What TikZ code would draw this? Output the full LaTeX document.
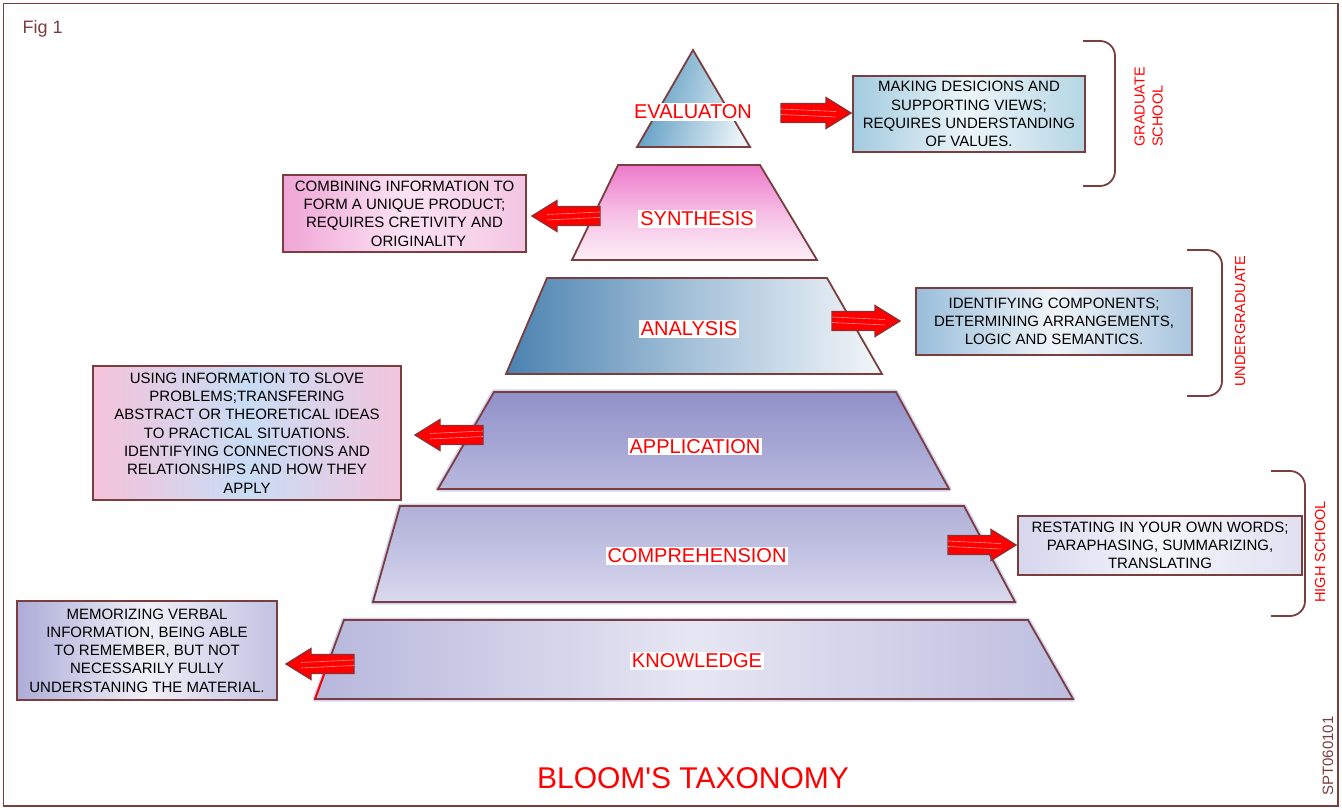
\documentclass[tikz,border=0pt]{standalone}
\usepackage{fontspec}
\setmainfont{Liberation Sans}
\usetikzlibrary{calc}

\definecolor{framec}{HTML}{7A3E3E}
\definecolor{arrowedge}{HTML}{8C3030}
\definecolor{haloc}{HTML}{D4D4F2}

\tikzset{
  framebox/.style={draw=framec, line width=1.5pt},
  edge/.style={draw=framec, line width=1.8pt, line join=miter},
  halo/.style={draw=haloc, line width=5pt, line join=round},
  level/.style={font=\fontsize{20}{22}\selectfont, text=red, fill=white,
                inner xsep=2pt, inner ysep=1.5pt},
  notebox/.style={draw=framec, line width=1.8pt, align=center, inner sep=0pt,
                  font=\fontsize{15}{18.3}\selectfont, text=black},
  stage/.style={font=\fontsize{14.5}{18}\selectfont, text=red, rotate=90,
                align=left, inner sep=0pt},
  redarrow/.style={fill=red, draw=arrowedge, line width=1.3pt, line join=miter},
  streak/.style={draw=red!45!white, line width=0.6pt},
  bracket/.style={draw=framec, line width=1.8pt, rounded corners=15pt},
}

% block arrow: tail x, tip x, centre y
\newcommand\blockarrow[3]{%
  \pgfmathsetmacro\bahd{(#2>#1)*50-25}%
  \path[redarrow] (#1,#3-9.5) -- ({#2-(\bahd)},#3-9.5) -- ({#2-(\bahd)},#3-15.5)
     -- (#2,#3) -- ({#2-(\bahd)},#3+15.5) -- ({#2-(\bahd)},#3+9.5)
     -- (#1,#3+9.5) -- cycle;
  \draw[streak] (#1,#3-4) -- ({#2-(\bahd)*0.6},#3-1.5);
  \draw[streak] (#1,#3+1.5) -- ({#2-(\bahd)*0.6},#3+4);
}

\begin{document}
\begin{tikzpicture}[x=1pt,y=-1pt]
\useasboundingbox (0,0) rectangle (1342,810);
\draw[framebox] (3.5,3.5) rectangle (1338,806);

\node[anchor=base west, font=\fontsize{18}{20}\selectfont, text=framec, inner sep=0pt]
  (fig) at (22.5,33.3) {Fig 1};

% ---- pyramid levels ----
% evaluation (apex)
\path[edge, left color={rgb,255:red,84;green,151;blue,190},
      right color={rgb,255:red,234;green,243;blue,248}, shading angle=75]
  (693,50) -- (750,147) -- (637,147) -- cycle;
% synthesis
\path[edge, top color={rgb,255:red,238;green,122;blue,203},
      bottom color={rgb,255:red,252;green,238;blue,247},
      middle color={rgb,255:red,246;green,190;blue,228}]
  (618,165) -- (760,165) -- (817,260) -- (572,260) -- cycle;
% analysis
\path[edge, left color={rgb,255:red,74;green,130;blue,176},
      right color={rgb,255:red,243;green,246;blue,249},
      middle color={rgb,255:red,166;green,194;blue,217}]
  (547,278) -- (827,278) -- (882,374) -- (506,374) -- cycle;
% application
\path[halo] (494,392) -- (896,392) -- (949,489) -- (438,489) -- cycle;
\path[edge, top color={rgb,255:red,145;green,145;blue,201},
      bottom color={rgb,255:red,184;green,184;blue,222}]
  (494,392) -- (896,392) -- (949,489) -- (438,489) -- cycle;
% comprehension
\path[halo] (400,506) -- (964,506) -- (1015,602) -- (373,602) -- cycle;
\path[edge, top color={rgb,255:red,177;green,177;blue,216},
      bottom color={rgb,255:red,217;green,217;blue,238},
      middle color={rgb,255:red,195;green,195;blue,227}]
  (400,506) -- (964,506) -- (1015,602) -- (373,602) -- cycle;
% knowledge
\path[halo] (344,620) -- (1028,620) -- (1073,699) -- (315,699) -- cycle;
\path[edge, left color={rgb,255:red,183;green,183;blue,220},
      right color={rgb,255:red,189;green,189;blue,223},
      middle color={rgb,255:red,230;green,230;blue,243}]
  (344,620) -- (1028,620) -- (1073,699) -- (315,699) -- cycle;
\draw[red, line width=1.8pt] (324.5,673) -- (315,699);

% level names
\node[level] (evaluation) at (693,112) {EVALUATON};
\node[level] (synthesis) at (697,219) {SYNTHESIS};
\node[level] (analysis) at (689,329) {ANALYSIS};
\node[level] (application) at (695,446.5) {APPLICATION};
\node[level] (comprehension) at (697,556) {COMPREHENSION};
\node[level] (knowledge) at (697,661) {KNOWLEDGE};

% ---- description boxes ----
\node[notebox, minimum width=232, minimum height=76,
      left color={rgb,255:red,162;green,203;blue,223},
      right color={rgb,255:red,181;green,214;blue,229},
      middle color={rgb,255:red,236;green,245;blue,249}]
  (evalbox) at (969,114)
  {MAKING DESICIONS AND\\SUPPORTING VIEWS;\\REQUIRES UNDERSTANDING\\OF VALUES.};

\node[notebox, minimum width=243, minimum height=77,
      left color={rgb,255:red,240;green,165;blue,214},
      right color={rgb,255:red,244;green,198;blue,227},
      middle color={rgb,255:red,251;green,226;blue,242}]
  (synbox) at (404.5,213.5)
  {COMBINING INFORMATION TO\\FORM A UNIQUE PRODUCT;\\REQUIRES CRETIVITY AND\\\hspace*{28pt}ORIGINALITY};

\node[notebox, minimum width=276, minimum height=67,
      left color={rgb,255:red,152;green,189;blue,218},
      right color={rgb,255:red,167;green,196;blue,221},
      middle color={rgb,255:red,240;green,245;blue,249}]
  (anabox) at (1054,321.5)
  {IDENTIFYING COMPONENTS;\\DETERMINING ARRANGEMENTS,\\LOGIC AND SEMANTICS.};

\node[notebox, minimum width=308, minimum height=134,
      left color={rgb,255:red,245;green,195;blue,218},
      right color={rgb,255:red,242;green,197;blue,221},
      middle color={rgb,255:red,200;green,221;blue,245}]
  (appbox) at (247,433)
  {USING INFORMATION TO SLOVE\\PROBLEMS;TRANSFERING\\ABSTRACT OR THEORETICAL IDEAS\\
   TO PRACTICAL SITUATIONS.\\IDENTIFYING CONNECTIONS AND\\RELATIONSHIPS AND HOW THEY\\APPLY};

\node[notebox, minimum width=284, minimum height=59,
      left color={rgb,255:red,214;green,214;blue,237},
      right color={rgb,255:red,224;green,224;blue,241},
      middle color={rgb,255:red,245;green,245;blue,251}]
  (combox) at (1160,545.5)
  {RESTATING IN YOUR OWN WORDS;\\PARAPHASING, SUMMARIZING,\\TRANSLATING};

\node[notebox, minimum width=260, minimum height=99,
      left color={rgb,255:red,172;green,172;blue,216},
      right color={rgb,255:red,194;green,194;blue,226},
      middle color={rgb,255:red,240;green,240;blue,248}]
  (knobox) at (147,650.5)
  {MEMORIZING VERBAL\\INFORMATION, BEING ABLE\\TO REMEMBER, BUT NOT\\
   NECESSARILY FULLY\\UNDERSTANING THE MATERIAL.};

% ---- block arrows from levels to descriptions ----
\blockarrow{781}{851}{113}
\blockarrow{600}{532}{216}
\blockarrow{832}{900}{321}
\blockarrow{483}{415}{435}
\blockarrow{948}{1016}{545}
\blockarrow{354}{286}{664}

% ---- school brackets ----
\draw[bracket] (1083,41) -- (1115,41) -- (1115,186) -- (1083,186);
\draw[bracket] (1187,250) -- (1222,250) -- (1222,396) -- (1187,396);
\draw[bracket] (1271,471) -- (1305,471) -- (1305,616) -- (1271,616);

\node[stage] (graduate) at (1148.5,107) {GRADUATE\\SCHOOL};
\node[stage] (undergrad) at (1240,321) {UNDERGRADUATE};
\node[stage] (highschool) at (1320,552) {HIGH SCHOOL};

% ---- title and reference code ----
\node[anchor=base, font=\fontsize{30}{33}\selectfont, text=red, inner sep=0pt]
  (title) at (693,788) {BLOOM\textquotesingle S TAXONOMY};
\node[rotate=90, font=\fontsize{15}{17}\selectfont, text=framec, inner sep=0pt]
  (code) at (1328,756) {SPT060101};
\end{tikzpicture}
\end{document}
